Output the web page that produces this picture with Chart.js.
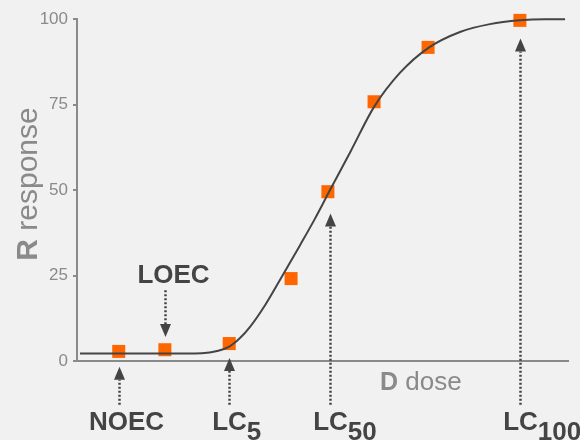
<!DOCTYPE html>
<html>
<head>
<meta charset="utf-8">
<script src="https://cdn.jsdelivr.net/npm/chart.js@4/dist/chart.umd.min.js"></script>
<style>
  body { margin: 0; background: #f1f1f1; }
  canvas { display: block; background: #f1f1f1; }
</style>
</head>
<body>
<canvas id="chart" width="580" height="440"></canvas>
<script>
'use strict';

// measured responses (orange squares)
let doseObs = [8.5, 17.9, 31.0, 43.6, 51.1, 60.5, 71.5, 90.2];
let respObs = [2.8, 3.3, 5.1, 24.1, 49.5, 75.8, 91.7, 99.6];

// fitted curve
let doseFit = [0.6, 8.8, 16.9, 24.0, 27.0, 28.5, 31.0, 33.2, 35.2, 38.3, 41.3, 45.4, 48.5, 51.5, 55.8, 60.5, 65.8, 71.5, 78.0, 84.1, 90.2, 95.3, 99.4];
let respFit = [2.2, 2.2, 2.2, 2.2, 2.5, 2.9, 4.2, 6.7, 9.9, 16.3, 23.6, 33.8, 41.7, 49.9, 61.5, 74.3, 84.3, 91.5, 96.2, 98.5, 99.6, 99.9, 99.9];

let yTicks = [0, 25, 50, 75, 100];

// annotation arrows
let markName = ['NOEC', 'LOEC', 'LC', 'LC', 'LC'];
let markSub = ['', '', '5', '50', '100'];
let markDose = [8.5, 17.9, 31.0, 51.5, 90.2];
let arrowFrom = [-12.8, 20.7, -12.8, -12.8, -12.8];
let arrowTo = [-1.7, 7.0, 0.9, 43.1, 94.3];
let labelShift = [7, 8, 0, 0, 0];

let textDark = '#444444';
let axisGrey = '#8a8a8a';
let sans = '"Liberation Sans", Arial, sans-serif';

let annotate = {
    id: 'annotate',
    afterDraw(chart) {
        let ctx = chart.ctx;
        let xs = chart.scales.x;
        let ys = chart.scales.y;
        let area = chart.chartArea;

        ctx.save();

        // y title
        ctx.save();
        ctx.translate(37, (area.top + area.bottom) / 2 - 6);
        ctx.rotate(-Math.PI / 2);
        ctx.fillStyle = axisGrey;
        ctx.textBaseline = 'alphabetic';
        ctx.textAlign = 'left';
        ctx.font = 'bold 30px ' + sans;
        let wR = ctx.measureText('R').width;
        ctx.font = '30px ' + sans;
        let wRest = ctx.measureText(' response').width;
        let start = -(wR + wRest) / 2;
        ctx.font = 'bold 30px ' + sans;
        ctx.fillText('R', start, 0);
        ctx.font = '30px ' + sans;
        ctx.fillText(' response', start + wR, 0);
        ctx.restore();

        // x title
        ctx.fillStyle = axisGrey;
        ctx.textAlign = 'left';
        ctx.textBaseline = 'alphabetic';
        let tx = area.left + (area.right - area.left) * 0.617;
        ctx.font = 'bold 25px ' + sans;
        ctx.fillText('D', tx, area.bottom + 29);
        let wD = ctx.measureText('D').width;
        ctx.font = '26px ' + sans;
        ctx.fillText(' dose', tx + wD, area.bottom + 29);

        // arrows
        ctx.strokeStyle = textDark;
        ctx.fillStyle = textDark;
        for (let i = 0; i < markName.length; i++) {
            let x = Math.round(xs.getPixelForValue(markDose[i])) + 0.5;
            let y0 = ys.getPixelForValue(arrowFrom[i]);
            let y1 = ys.getPixelForValue(arrowTo[i]);
            let dir = y1 < y0 ? 1 : -1;
            let headLen = 13;
            ctx.lineWidth = 2.5;
            ctx.setLineDash([2, 2]);
            ctx.beginPath();
            ctx.moveTo(x, y0);
            ctx.lineTo(x, y1 + dir * headLen);
            ctx.stroke();
            ctx.setLineDash([]);
            ctx.beginPath();
            ctx.moveTo(x, y1);
            ctx.lineTo(x - 5.5, y1 + dir * headLen);
            ctx.lineTo(x + 5.5, y1 + dir * headLen);
            ctx.closePath();
            ctx.fill();

            // label
            ctx.font = 'bold 26px ' + sans;
            ctx.textAlign = 'left';
            let w = ctx.measureText(markName[i]).width;
            let base = dir > 0 ? area.bottom + 69 : y0 - 7;
            let lx = x - w / 2 + labelShift[i];
            ctx.fillText(markName[i], lx, base);
            if (markSub[i]) {
                ctx.fillText(markSub[i], lx + w, base + 10);
            }
        }
        ctx.restore();
    }
};

let curve = doseFit.map((d, i) => ({ x: d, y: respFit[i] }));
let obs = doseObs.map((d, i) => ({ x: d, y: respObs[i] }));

let config = {
    type: 'scatter',
    data: {
        datasets: [{
            type: 'line',
            data: curve,
            borderColor: '#444444',
            borderWidth: 2,
            pointRadius: 0,
            cubicInterpolationMode: 'monotone',
            fill: false,
            clip: false
        }, {
            type: 'scatter',
            data: obs,
            pointStyle: 'rect',
            pointRadius: 9.2,
            pointHoverRadius: 9.2,
            backgroundColor: '#ff6600',
            borderWidth: 0,
            clip: false
        }]
    },
    options: {
        responsive: false,
        animation: false,
        layout: {
            padding: { top: 19, right: 12, left: 0, bottom: 0 }
        },
        plugins: {
            legend: { display: false },
            tooltip: { enabled: false }
        },
        scales: {
            x: {
                type: 'linear',
                min: 0,
                max: 100,
                ticks: { display: false },
                grid: { display: false, drawTicks: false },
                border: { display: true, color: axisGrey, width: 2 },
                afterFit: function(s) { s.height = 79; }
            },
            y: {
                min: 0,
                max: 100,
                afterBuildTicks: function(s) { s.ticks = yTicks.map(v => ({ value: v })); },
                ticks: {
                    color: axisGrey,
                    padding: 5,
                    font: { size: 17, family: sans }
                },
                grid: {
                    drawOnChartArea: false,
                    drawTicks: true,
                    tickLength: 4,
                    color: axisGrey,
                    lineWidth: 2
                },
                border: { display: true, color: axisGrey, width: 2 },
                afterFit: function(s) { s.width = 77; }
            }
        }
    },
    plugins: [annotate]
};

let chart = new Chart(document.getElementById('chart').getContext('2d'), config);
</script>
</body>
</html>
